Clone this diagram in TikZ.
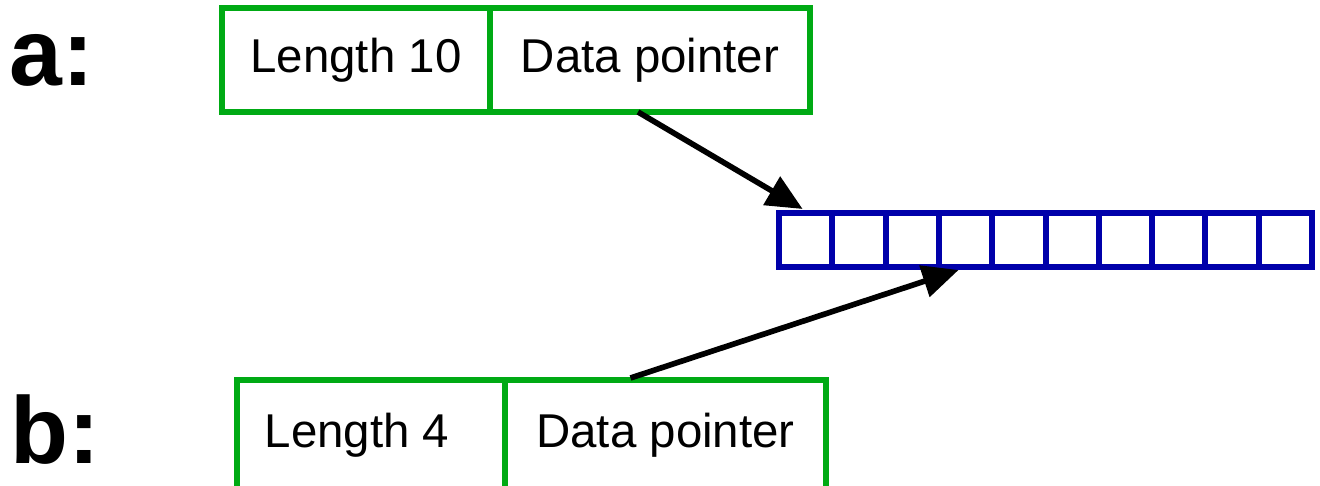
\documentclass[tikz,border=0pt]{standalone}
\usepackage{fontspec}
\setmainfont{Liberation Sans}
\usetikzlibrary{arrows.meta,calc}

\definecolor{boxgreen}{RGB}{0,170,20}
\definecolor{cellblue}{RGB}{0,0,170}

\begin{document}
\begin{tikzpicture}[
    field/.style={draw=boxgreen, line width=1.6pt, minimum height=1.04cm, inner sep=0pt,
                  outer sep=0pt, font=\fontsize{13.5}{16}\selectfont},
    cell/.style={draw=cellblue, line width=1.7pt, minimum width=0.533cm, minimum height=0.54cm,
                 inner sep=0pt, outer sep=0pt},
    ptr/.style={line width=1.6pt, -{Triangle[length=3.6mm,width=3.2mm]}},
    varname/.style={font=\fontsize{27}{31}\bfseries\selectfont}]

    \useasboundingbox (0, 0) rectangle (13.2, -4.86);

    % these are the names
    \node[varname] (na) at (0.52, -0.60) {a:};
    \node[varname] (nb) at (0.55, -4.30) {b:};

    % these are the two headers
    \node[field, minimum width=2.68cm] (lenA) at (3.56, -0.60) {Length 10};
    \node[field, minimum width=3.20cm, anchor=west] (ptrA) at (lenA.east) {Data pointer};

    \node[field, minimum width=2.68cm, minimum height=1.10cm,
          label={[font=\fontsize{13.5}{16}\selectfont, xshift=-0.14cm]center:Length 4}] (lenB) at (3.71, -4.35) {};
    \node[field, minimum width=3.21cm, minimum height=1.10cm, anchor=west] (ptrB) at (lenB.east) {Data pointer};

    % this is the data
    \foreach \i in {1,...,10}
        \node[cell] (c\i) at ({7.79 + 0.533*(\i - 0.5)}, -2.40) {};

    \draw[ptr] ($(ptrA.south)+(-0.12, 0)$) -- ($(c1.north)+(-0.03, 0.04)$);
    \draw[ptr] ($(ptrB.north)+(-0.35, 0.02)$) -- ($(c4.south)+(-0.07, -0.03)$);

\end{tikzpicture}
\end{document}
